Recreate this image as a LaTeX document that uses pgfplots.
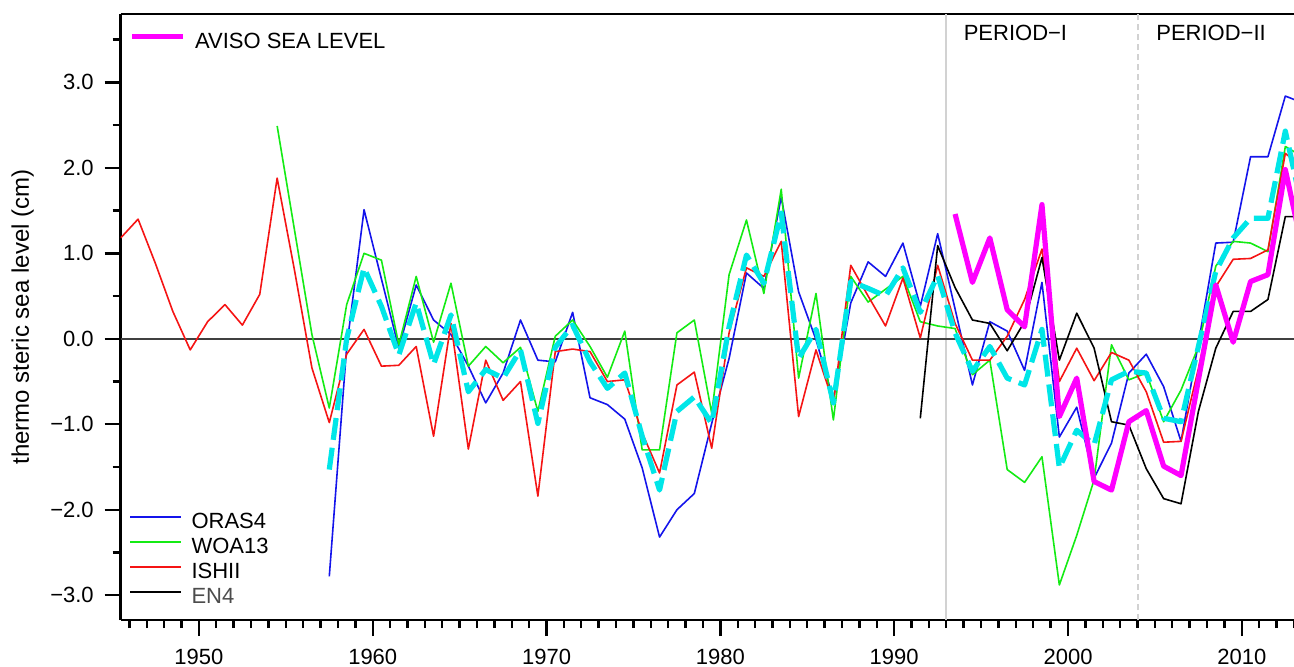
\documentclass[border=0pt]{standalone}
\usepackage{fontspec}
\setmainfont{Liberation Sans}
\usepackage{pgfplots}
\usepackage{pgfplotstable}
\pgfplotsset{compat=1.18}

\definecolor{cblue}{RGB}{20,20,235}
\definecolor{cgreen}{RGB}{20,235,20}
\definecolor{cred}{RGB}{245,20,20}
\definecolor{ccyan}{RGB}{0,230,232}
\definecolor{cmag}{RGB}{255,0,255}

\pgfplotstableread{
x y
1945.5 1.18
1946.5 1.40
1947.5 0.88
1948.5 0.32
1949.5 -0.13
1950.5 0.20
1951.5 0.40
1952.5 0.16
1953.5 0.52
1954.5 1.88
1955.5 0.80
1956.5 -0.34
1957.5 -0.98
1958.5 -0.18
1959.5 0.11
1960.5 -0.32
1961.5 -0.31
1962.5 -0.09
1963.5 -1.14
1964.5 0.18
1965.5 -1.29
1966.5 -0.25
1967.5 -0.72
1968.5 -0.50
1969.5 -1.84
1970.5 -0.15
1971.5 -0.12
1972.5 -0.15
1973.5 -0.50
1974.5 -0.48
1975.5 -1.10
1976.5 -1.57
1977.5 -0.54
1978.5 -0.39
1979.5 -1.28
1980.5 0.07
1981.5 0.83
1982.5 0.73
1983.5 1.14
1984.5 -0.91
1985.5 -0.13
1986.5 -0.75
1987.5 0.86
1988.5 0.50
1989.5 0.15
1990.5 0.71
1991.5 0.01
1992.5 0.86
1993.5 0.18
1994.5 -0.25
1995.5 -0.25
1996.5 0.03
1997.5 0.46
1998.5 1.05
1999.5 -0.50
2000.5 -0.11
2001.5 -0.49
2002.5 -0.16
2003.5 -0.25
2004.5 -0.62
2005.5 -1.21
2006.5 -1.20
2007.5 -0.35
2008.5 0.61
2009.5 0.93
2010.5 0.94
2011.5 1.04
2012.5 2.17
2013.5 2.00
}\ishii

\pgfplotstableread{
x y
1954.5 2.49
1955.5 1.27
1956.5 0.05
1957.5 -0.81
1958.5 0.40
1959.5 1.00
1960.5 0.92
1961.5 -0.07
1962.5 0.73
1963.5 -0.04
1964.5 0.65
1965.5 -0.32
1966.5 -0.09
1967.5 -0.28
1968.5 -0.10
1969.5 -0.85
1970.5 0.03
1971.5 0.22
1972.5 -0.09
1973.5 -0.45
1974.5 0.09
1975.5 -1.30
1976.5 -1.30
1977.5 0.07
1978.5 0.22
1979.5 -0.87
1980.5 0.75
1981.5 1.39
1982.5 0.53
1983.5 1.75
1984.5 -0.46
1985.5 0.53
1986.5 -0.95
1987.5 0.73
1988.5 0.43
1989.5 0.58
1990.5 0.73
1991.5 0.20
1992.5 0.15
1993.5 0.12
1994.5 -0.42
1995.5 -0.25
1996.5 -1.53
1997.5 -1.68
1998.5 -1.38
1999.5 -2.88
2000.5 -2.30
2001.5 -1.65
2002.5 -0.07
2003.5 -0.48
2004.5 -0.40
2005.5 -0.97
2006.5 -0.60
2007.5 -0.09
2008.5 0.85
2009.5 1.14
2010.5 1.12
2011.5 1.02
2012.5 2.25
2013.5 2.13
}\woa

\pgfplotstableread{
x y
1957.5 -2.78
1958.5 -0.10
1959.5 1.51
1960.5 0.70
1961.5 -0.11
1962.5 0.63
1963.5 0.22
1964.5 0.05
1965.5 -0.32
1966.5 -0.75
1967.5 -0.40
1968.5 0.22
1969.5 -0.25
1970.5 -0.27
1971.5 0.31
1972.5 -0.69
1973.5 -0.77
1974.5 -0.94
1975.5 -1.51
1976.5 -2.32
1977.5 -2.00
1978.5 -1.81
1979.5 -0.99
1980.5 -0.23
1981.5 0.77
1982.5 0.59
1983.5 1.66
1984.5 0.55
1985.5 -0.01
1986.5 -0.71
1987.5 0.42
1988.5 0.90
1989.5 0.73
1990.5 1.12
1991.5 0.38
1992.5 1.23
1993.5 0.35
1994.5 -0.54
1995.5 0.20
1996.5 0.09
1997.5 -0.37
1998.5 0.66
1999.5 -1.15
2000.5 -0.80
2001.5 -1.63
2002.5 -1.22
2003.5 -0.40
2004.5 -0.18
2005.5 -0.56
2006.5 -1.20
2007.5 -0.05
2008.5 1.12
2009.5 1.13
2010.5 2.13
2011.5 2.13
2012.5 2.84
2013.5 2.76
}\oras

\pgfplotstableread{
x y
1991.5 -0.93
1992.5 1.09
1993.5 0.60
1994.5 0.22
1995.5 0.18
1996.5 -0.14
1997.5 0.20
1998.5 0.95
1999.5 -0.25
2000.5 0.30
2001.5 -0.11
2002.5 -0.97
2003.5 -1.01
2004.5 -1.52
2005.5 -1.87
2006.5 -1.93
2007.5 -0.85
2008.5 -0.11
2009.5 0.32
2010.5 0.32
2011.5 0.46
2012.5 1.43
2013.5 1.43
}\enfour

\pgfplotstableread{
x y
1957.5 -1.53
1958.5 0.00
1959.5 0.83
1960.5 0.38
1961.5 -0.19
1962.5 0.42
1963.5 -0.30
1964.5 0.28
1965.5 -0.62
1966.5 -0.36
1967.5 -0.46
1968.5 -0.13
1969.5 -0.99
1970.5 -0.10
1971.5 0.16
1972.5 -0.27
1973.5 -0.58
1974.5 -0.40
1975.5 -1.14
1976.5 -1.77
1977.5 -0.85
1978.5 -0.68
1979.5 -0.99
1980.5 0.14
1981.5 0.98
1982.5 0.65
1983.5 1.47
1984.5 -0.23
1985.5 0.11
1986.5 -0.75
1987.5 0.67
1988.5 0.59
1989.5 0.50
1990.5 0.83
1991.5 0.31
1992.5 0.74
1993.5 0.07
1994.5 -0.38
1995.5 -0.09
1996.5 -0.46
1997.5 -0.54
1998.5 0.11
1999.5 -1.51
2000.5 -1.07
2001.5 -1.24
2002.5 -0.48
2003.5 -0.38
2004.5 -0.40
2005.5 -0.93
2006.5 -0.97
2007.5 -0.09
2008.5 0.79
2009.5 1.18
2010.5 1.41
2011.5 1.41
2012.5 2.43
2013.5 1.50
}\ensmean

\pgfplotstableread{
x y
1993.5 1.46
1994.5 0.66
1995.5 1.18
1996.5 0.34
1997.5 0.14
1998.5 1.57
1999.5 -0.91
2000.5 -0.46
2001.5 -1.67
2002.5 -1.77
2003.5 -0.97
2004.5 -0.84
2005.5 -1.49
2006.5 -1.60
2007.5 -0.48
2008.5 0.63
2009.5 -0.04
2010.5 0.67
2011.5 0.75
2012.5 1.98
2013.5 1.04
}\aviso

\pgfplotsset{
  commonax/.style={
    at={(0,0)}, anchor=south west,
    scale only axis, width=586.65pt, height=303pt,
    xmin=1945.5, xmax=2013, ymin=-3.29, ymax=3.8,
  },
  mylegend/.style={
    legend image code/.code={\path (0pt,0pt); \draw[##1] (0pt,4pt) -- (25.5pt,4pt);},
    legend cell align=left,
  },
}

\begin{document}
\begin{tikzpicture}[line join=round]
\useasboundingbox (-60.35pt,-23pt) rectangle (586.65pt,310pt);
\begin{axis}[
  commonax,
  separate axis lines,
  axis x line*=box, axis y line*=left,
  x axis line style={-, line width=1.2pt, black},
  y axis line style={-, line width=1.2pt, black},
  xtick={1950,1960,1970,1980,1990,2000,2010},
  xticklabels={1950,1960,1970,1980,1990,2000,2010},
  minor xtick={1946,1947,...,2013},
  ytick={-3,-2,-1,0,1,2,3},
  yticklabels={−3.0,−2.0,−1.0,0.0,1.0,2.0,3.0},
  minor ytick={-2.5,-1.5,-0.5,0.5,1.5,2.5,3.5},
  tick align=outside,
  xtick pos=bottom, ytick pos=left,
  major tick length=8pt, minor tick length=4pt,
  every tick/.style={black, line width=1.2pt},
  xticklabel style={font=\fontsize{11}{12}\selectfont, inner sep=0pt, anchor=north, text height=7.9pt, yshift=-6pt},
  yticklabel style={font=\fontsize{11}{12}\selectfont, inner sep=0pt, anchor=east, xshift=-5.3pt},
  ylabel={thermo steric sea level (cm)},
  every axis y label/.style={at={([xshift=-49pt]axis description cs:0,0.5)}, rotate=90, anchor=center, font=\fontsize{12}{14}\selectfont},
  mylegend,
  legend style={draw=none, fill=none, at={(rel axis cs:0,0)}, anchor=south west,
    inner xsep=4.2pt, inner ysep=3.6pt, column sep=4.7pt, row sep=0pt,
    font=\fontsize{11}{12}\selectfont,
    nodes={inner sep=0pt, text height=8pt, text depth=4.5pt}},
]
\addplot[gray!35, line width=1pt, forget plot] coordinates {(1993,-3.29) (1993,3.8)};
\addplot[gray!35, line width=1pt, densely dashed, forget plot] coordinates {(2004,-3.29) (2004,3.8)};
\addplot[black!75, line width=1pt, forget plot] coordinates {(1945.5,0) (2013,0)};
\addplot[cblue, line width=0.8pt] table {\oras}; \addlegendentry{ORAS4}
\addplot[cgreen, line width=0.8pt] table {\woa}; \addlegendentry{WOA13}
\addplot[cred, line width=0.8pt] table {\ishii}; \addlegendentry{ISHII}
\addplot[black, line width=0.8pt] table {\enfour}; \addlegendentry{\textcolor{black!70}{EN4}}
\addplot[ccyan, line width=2.6pt, dash pattern=on 11pt off 4pt, forget plot] table {\ensmean};
\node[anchor=west, inner sep=0pt, font=\fontsize{11}{12}\selectfont] at (axis cs:1993.98,3.58) {PERIOD−I};
\node[anchor=west, inner sep=0pt, font=\fontsize{11}{12}\selectfont] at (axis cs:2005.06,3.58) {PERIOD−II};
\end{axis}
\begin{axis}[
  commonax, hide axis,
  mylegend,
  legend style={draw=none, fill=none, at={(rel axis cs:0,1)}, anchor=north west,
    inner xsep=4.2pt, inner ysep=9pt, column sep=4.7pt, row sep=0pt,
    font=\fontsize{11}{12}\selectfont,
    nodes={inner sep=0pt, text height=8pt, text depth=4.5pt}},
]
\addplot[cmag, line width=2.6pt] table {\aviso}; \addlegendentry{AVISO SEA LEVEL}
\end{axis}
\end{tikzpicture}
\end{document}
